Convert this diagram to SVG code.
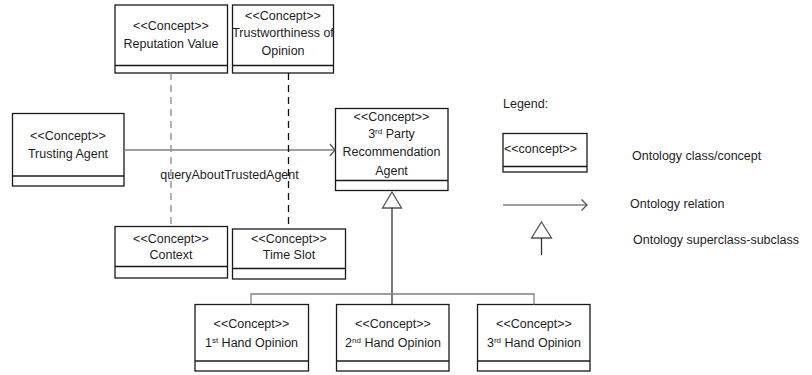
<svg xmlns="http://www.w3.org/2000/svg" width="812" height="375" viewBox="0 0 812 375">
  <style>
    .box { fill: #fff; stroke: #1a1a1a; stroke-width: 1.3; }
    .div { stroke: #1a1a1a; stroke-width: 1.3; fill: none; }
    text { font-family: "Liberation Sans", Arial, sans-serif; font-size: 12.5px; fill: #1e1e1e; }
    .c { text-anchor: middle; }
    .rel { stroke: #808080; stroke-width: 1.3; fill: none; }
    .chev { stroke: #555; stroke-width: 1.3; fill: none; }
    .dash-lt { stroke: #8a8a8a; stroke-width: 1.3; stroke-dasharray: 7 5; fill: none; }
    .dash-dk { stroke: #111; stroke-width: 1.3; stroke-dasharray: 7 5; fill: none; }
    .inh { stroke: #333; stroke-width: 1.3; fill: none; }
    .tri { fill: #fff; stroke: #555; stroke-width: 1.3; }
    .sup { font-size: 8px; }
  </style>

  <!-- concept nodes -->
  <g id="reputation-value">
    <rect class="box" x="115" y="5" width="112.5" height="68"/>
    <line class="div" x1="115" y1="65.5" x2="227.5" y2="65.5"/>
    <text class="c" x="171" y="29.5">&lt;&lt;Concept&gt;&gt;</text>
    <text class="c" x="171" y="47.5">Reputation Value</text>
  </g>

  <g id="trustworthiness-of-opinion">
    <rect class="box" x="232.5" y="5" width="101" height="68"/>
    <line class="div" x1="232.5" y1="65.5" x2="333.5" y2="65.5"/>
    <text class="c" x="283" y="19.5">&lt;&lt;Concept&gt;&gt;</text>
    <text class="c" x="283" y="36.5">Trustworthiness of</text>
    <text class="c" x="283" y="54.5">Opinion</text>
  </g>

  <g id="trusting-agent">
    <rect class="box" x="12.5" y="113.5" width="111.5" height="72.5"/>
    <line class="div" x1="12.5" y1="176" x2="124" y2="176"/>
    <text class="c" x="68" y="139.5">&lt;&lt;Concept&gt;&gt;</text>
    <text class="c" x="68" y="157.5">Trusting Agent</text>
  </g>

  <g id="third-party-recommendation-agent">
    <rect class="box" x="335.5" y="108.5" width="112.5" height="82"/>
    <line class="div" x1="335.5" y1="180.5" x2="448" y2="180.5"/>
    <text class="c" x="391.5" y="121">&lt;&lt;Concept&gt;&gt;</text>
    <text class="c" x="391.5" y="137.5">3<tspan class="sup" baseline-shift="super">rd</tspan> Party</text>
    <text class="c" x="391.5" y="156">Recommendation</text>
    <text class="c" x="391.5" y="174.5">Agent</text>
  </g>

  <g id="context">
    <rect class="box" x="115" y="226.5" width="112.5" height="51.5"/>
    <line class="div" x1="115" y1="266.5" x2="227.5" y2="266.5"/>
    <text class="c" x="171" y="242.5">&lt;&lt;Concept&gt;&gt;</text>
    <text class="c" x="171" y="258.5">Context</text>
  </g>

  <g id="time-slot">
    <rect class="box" x="232.5" y="229" width="113" height="50"/>
    <line class="div" x1="232.5" y1="268.5" x2="345.5" y2="268.5"/>
    <text class="c" x="289" y="243">&lt;&lt;Concept&gt;&gt;</text>
    <text class="c" x="289" y="259">Time Slot</text>
  </g>

  <g id="first-hand-opinion">
    <rect class="box" x="195" y="304.5" width="113.5" height="66.5"/>
    <line class="div" x1="195" y1="361" x2="308.5" y2="361"/>
    <text class="c" x="251.5" y="327.5">&lt;&lt;Concept&gt;&gt;</text>
    <text class="c" x="251.5" y="346.5">1<tspan class="sup" baseline-shift="super">st</tspan> Hand Opinion</text>
  </g>

  <g id="second-hand-opinion">
    <rect class="box" x="336.5" y="304.5" width="112.5" height="66.5"/>
    <line class="div" x1="336.5" y1="361" x2="449" y2="361"/>
    <text class="c" x="393" y="327.5">&lt;&lt;Concept&gt;&gt;</text>
    <text class="c" x="393" y="346.5">2<tspan class="sup" baseline-shift="super">nd</tspan> Hand Opinion</text>
  </g>

  <g id="third-hand-opinion">
    <rect class="box" x="477.5" y="304.5" width="112.5" height="66.5"/>
    <line class="div" x1="477.5" y1="361" x2="590" y2="361"/>
    <text class="c" x="534" y="327.5">&lt;&lt;Concept&gt;&gt;</text>
    <text class="c" x="534" y="346.5">3<tspan class="sup" baseline-shift="super">rd</tspan> Hand Opinion</text>
  </g>

  <!-- connectors -->
  <g id="connectors">
    <!-- relation: Trusting Agent -> 3rd Party Recommendation Agent -->
    <line class="rel" x1="124" y1="150" x2="335" y2="150"/>
    <polyline class="chev" points="330,144 335,150 330,156"/>
    <text class="c" x="229.5" y="178.5">queryAboutTrustedAgent</text>

    <!-- association classes on the relation -->
    <line class="dash-lt" x1="171" y1="73" x2="171" y2="226.5"/>
    <line class="dash-dk" x1="288.5" y1="73" x2="288.5" y2="229"/>

    <!-- generalisation: hand opinions -> 3rd Party Recommendation Agent -->
    <polygon class="tri" points="392,192 401.5,208 382.5,208"/>
    <line class="inh" x1="392" y1="208" x2="392" y2="304.5"/>
    <polyline class="rel" points="251,304.5 251,294 534,294 534,304.5"/>
  </g>

  <!-- legend -->
  <g id="legend">
    <text x="503" y="107.5">Legend:</text>

    <rect class="box" x="503" y="133.5" width="84" height="38.5"/>
    <line class="div" x1="503" y1="166.5" x2="587" y2="166.5"/>
    <text x="504" y="152.5">&lt;&lt;concept&gt;&gt;</text>
    <text x="632" y="159.5">Ontology class/concept</text>

    <line class="rel" x1="503" y1="205" x2="587" y2="205"/>
    <polyline class="chev" points="581.5,199.5 587,205 581.5,210.5"/>
    <text x="630" y="208">Ontology relation</text>

    <polygon class="tri" points="541.5,222 551.5,238 531.5,238"/>
    <line class="inh" x1="541.5" y1="238" x2="541.5" y2="255"/>
    <text x="633" y="243.5">Ontology superclass-subclass</text>
  </g>
</svg>
